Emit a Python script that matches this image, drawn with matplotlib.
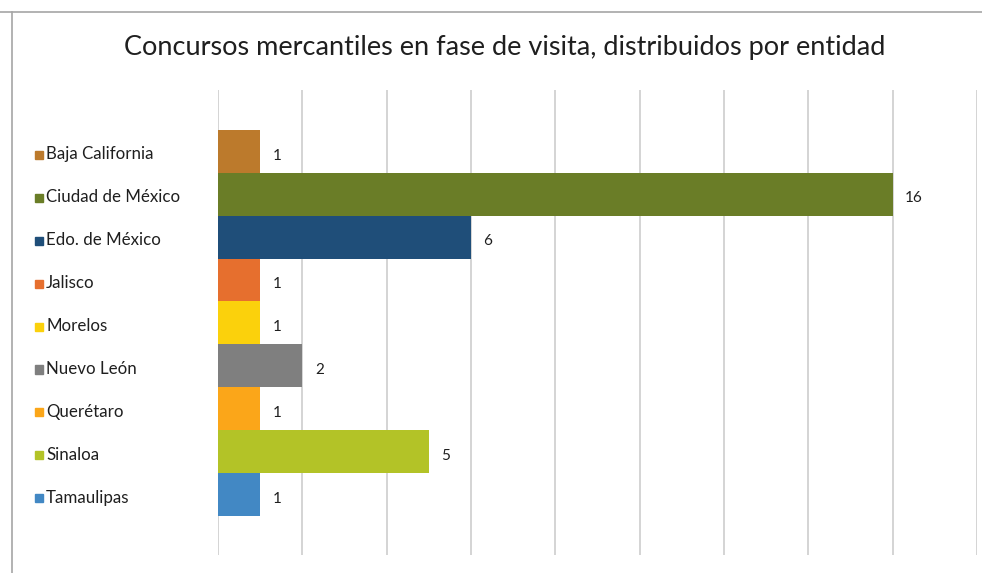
import matplotlib
matplotlib.use("Agg")
import matplotlib.pyplot as plt
from matplotlib.lines import Line2D
from matplotlib.transforms import blended_transform_factory

plt.rcParams['font.family'] = ['Lato', 'DejaVu Sans']

entidades = ["Baja California", "Ciudad de México", "Edo. de México", "Jalisco",
             "Morelos", "Nuevo León", "Querétaro", "Sinaloa", "Tamaulipas"]
concursos = [1, 16, 6, 1, 1, 2, 1, 5, 1]
colores = ["#BC7A2C", "#6A7D27", "#1F4E79", "#E66F2E", "#FBD10C",
           "#7F7F7F", "#FBA619", "#B3C327", "#4288C4"]
titulo = "Concursos mercantiles en fase de visita, distribuidos por entidad"

fig = plt.figure(figsize=(9.82, 5.73), dpi=100)
W, H = 982, 573
ax = fig.add_axes([218 / W, 1 - 555 / H, (977 - 218) / W, (555 - 90) / H])

pos = list(range(len(entidades)))
ax.barh(pos, concursos, height=1.0, color=colores, edgecolor="none", zorder=2)

# gridlines every 2 units
for gx in range(0, 19, 2):
    ax.axvline(gx, color="#C9C9C9", lw=1.1, zorder=1)

ax.set_xlim(0, 18)
ax.set_ylim(8.5 + 0.91, -0.5 - 0.93)
for s in ax.spines.values():
    s.set_visible(False)
ax.set_xticks([])
ax.set_yticks([])

# value labels
for p, v in zip(pos, concursos):
    ax.annotate(str(v), (v, p), xytext=(9, -3), textcoords="offset points",
                ha="left", va="center", fontsize=11, color="#1F1F1F")

# legend-like labels on the left
tr = blended_transform_factory(fig.transFigure, ax.transData)
for p, name, c in zip(pos, entidades, colores):
    fig.patches.append(plt.Rectangle((35 / W, p - 0.01), 8 / W, 0.19, transform=tr,
                                     color=c, figure=fig))
    fig.text(46 / W, p + 0.07, name, transform=tr, ha="left", va="center",
             fontsize=12.2, color="#1F1F1F")

fig.text(505 / W, 1 - 48 / H, titulo, ha="center", va="center", fontsize=19.5, color="#1F1F1F")

# outer frame
fig.add_artist(Line2D([0, 1], [1 - 12 / H, 1 - 12 / H], color="#A6A6A6", lw=1.2))
fig.add_artist(Line2D([12 / W, 12 / W], [0, 1 - 12 / H], color="#A6A6A6", lw=1.2))

fig.savefig("out.png", dpi=100)
